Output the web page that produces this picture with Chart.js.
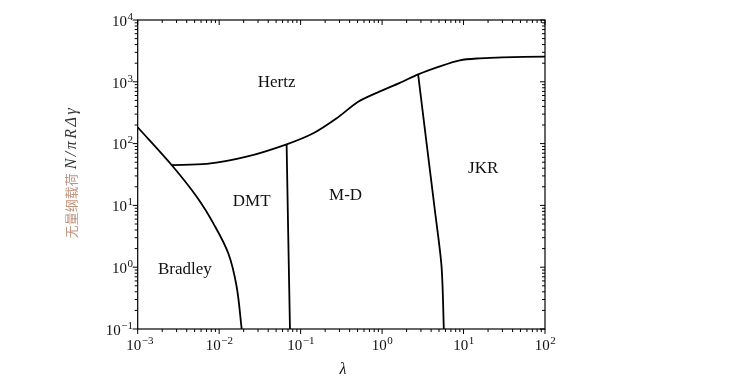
<!DOCTYPE html>
<html><head><meta charset="utf-8">
<script src="https://cdn.jsdelivr.net/npm/chart.js@4"></script>
<style>html,body{margin:0;padding:0;background:#fff}</style>
</head><body>
<canvas id="c" width="743" height="389" style="display:block;width:743px;height:389px"></canvas>
<script>
// ---- data ----
const bradleyX = [0.001, 0.00261, 0.0053, 0.00848, 0.01294, 0.0164, 0.0189];
const bradleyY = [184, 45, 13.8, 5.13, 1.68, 0.483, 0.1];
const hertzX = [0.00261, 0.00703, 0.0217, 0.0673, 0.143, 0.277, 0.509, 0.94, 1.65, 2.77, 5.12, 9.0, 15.8, 30, 100];
const hertzY = [45, 46.8, 61.4, 97.4, 147, 257, 476, 700, 960, 1320, 1780, 2230, 2400, 2490, 2547];
const dmtX = [0.0673, 0.0705, 0.074];
const dmtY = [97.4, 3.2, 0.1];
const jkrX = [2.77, 3.52, 4.44, 5.37, 5.73];
const jkrY = [1320, 101, 8.43, 1.02, 0.1];

const regionNames = ['Hertz', 'DMT', 'M-D', 'JKR', 'Bradley'];
const regionX = [0.0508, 0.0251, 0.356, 17.4, 0.0038];
const regionY = [967, 11.5, 14.7, 39.8, 0.925];

const xTickExp = [-3, -2, -1, 0, 1, 2];
const yTickExp = [-1, 0, 1, 2, 3, 4];
const xTitle = 'λ';
const yTitleCN = '无量纲载荷';
const yTitleMath = 'N/πRΔγ';

const pts = (xs, ys) => xs.map((x, i) => ({x, y: ys[i]}));
const SERIF = '"Liberation Serif", "DejaVu Serif", serif';

function lineDs(xs, ys, t) {
  return {data: pts(xs, ys), showLine: true, pointRadius: 0, borderColor: '#000',
          borderWidth: 1.8, tension: t, fill: false};
}

const decor = {
  id: 'decor',
  afterDraw(chart) {
    const ctx = chart.ctx, a = chart.chartArea;
    const xs = chart.scales.x, ys = chart.scales.y;
    ctx.save();
    // frame
    ctx.strokeStyle = '#000'; ctx.lineWidth = 1.2;
    ctx.strokeRect(a.left, a.top, a.right - a.left, a.bottom - a.top);
    // ticks
    ctx.lineWidth = 1;
    const minorX = [], minorY = [];
    xTickExp.forEach(e => { for (let m = 1; m <= 9; m++) { const v = m * Math.pow(10, e); if (v <= 100.0001) minorX.push([v, m === 1]); } });
    yTickExp.forEach(e => { for (let m = 1; m <= 9; m++) { const v = m * Math.pow(10, e); if (v <= 10000.001) minorY.push([v, m === 1]); } });
    ctx.beginPath();
    minorX.forEach(([v, maj]) => {
      const px = xs.getPixelForValue(v), L = maj ? 5 : 3;
      ctx.moveTo(px, a.bottom); ctx.lineTo(px, a.bottom + L);
      ctx.moveTo(px, a.top); ctx.lineTo(px, a.top + L);
    });
    minorY.forEach(([v, maj]) => {
      const py = ys.getPixelForValue(v), L = maj ? 5 : 3;
      ctx.moveTo(a.left, py); ctx.lineTo(a.left - L, py);
      ctx.moveTo(a.right, py); ctx.lineTo(a.right - L, py);
    });
    ctx.stroke();
    // tick labels
    ctx.fillStyle = '#111';
    ctx.textBaseline = 'alphabetic'; ctx.textAlign = 'left';
    const big = '15px ' + SERIF, small = '11px ' + SERIF;
    function lab(exp) {
      const s = exp < 0 ? '−' + (-exp) : String(exp);
      ctx.font = big; const w1 = ctx.measureText('10').width;
      ctx.font = small; const w2 = ctx.measureText(s).width;
      return {s, w1, w2};
    }
    function drawLab(L, x, base) {
      ctx.font = big; ctx.fillText('10', x, base);
      ctx.font = small; ctx.fillText(L.s, x + L.w1 + 0.5, base - 6);
    }
    xTickExp.forEach(e => {
      const L = lab(e), px = xs.getPixelForValue(Math.pow(10, e));
      drawLab(L, px - (L.w1 + L.w2) / 2 + (e === -3 ? 2 : 0), 349.5);
    });
    yTickExp.forEach(e => {
      const L = lab(e), py = ys.getPixelForValue(Math.pow(10, e));
      drawLab(L, 132.5 - L.w1 - L.w2, py + 5.7);
    });
    // region labels
    ctx.font = '17px ' + SERIF; ctx.textAlign = 'center'; ctx.textBaseline = 'middle';
    regionNames.forEach((n, i) => {
      ctx.fillText(n, xs.getPixelForValue(regionX[i]), ys.getPixelForValue(regionY[i]));
    });
    // x title
    ctx.font = 'italic 16px ' + SERIF; ctx.textBaseline = 'alphabetic';
    ctx.fillText(xTitle, 343, 374);
    // y title
    ctx.save();
    ctx.translate(71, 172); ctx.rotate(-Math.PI / 2);
    ctx.textAlign = 'left'; ctx.textBaseline = 'middle';
    const cnFont = '13px "Noto Sans CJK SC", sans-serif';
    const mFont = 'italic 16px ' + SERIF;
    ctx.font = cnFont;
    const wc = ctx.measureText(yTitleCN).width;
    ctx.font = mFont;
    ctx.letterSpacing = '2.5px';
    const wm = ctx.measureText(yTitleMath).width;
    const gap = 4;
    const start = -(wc + gap + wm) / 2;
    ctx.letterSpacing = '0px';
    ctx.font = cnFont;
    ctx.fillStyle = '#c09580';
    ctx.fillText(yTitleCN, start, 0);
    ctx.font = mFont;
    ctx.letterSpacing = '2.5px';
    ctx.fillStyle = '#333';
    ctx.fillText(yTitleMath, start + wc + gap, 1);
    ctx.restore();
    ctx.restore();
  }
};

new Chart(document.getElementById('c'), {
  type: 'scatter',
  data: {datasets: [
    lineDs(bradleyX, bradleyY, 0.35),
    lineDs(hertzX, hertzY, 0.3),
    lineDs(dmtX, dmtY, 0.2),
    lineDs(jkrX, jkrY, 0.3)
  ]},
  options: {
    responsive: false, devicePixelRatio: 1, animation: false,
    layout: {padding: {left: 0, top: 20, right: 198, bottom: 0}},
    plugins: {legend: {display: false}, tooltip: {enabled: false}},
    scales: {
      x: {type: 'logarithmic', min: 1e-3, max: 1e2,
          grid: {display: false}, border: {display: false}, ticks: {display: false},
          afterFit(s) { s.height = 60; }},
      y: {type: 'logarithmic', min: 0.1, max: 1e4,
          grid: {display: false}, border: {display: false}, ticks: {display: false},
          afterFit(s) { s.width = 137.7; }}
    }
  },
  plugins: [decor]
});
</script>
</body></html>
